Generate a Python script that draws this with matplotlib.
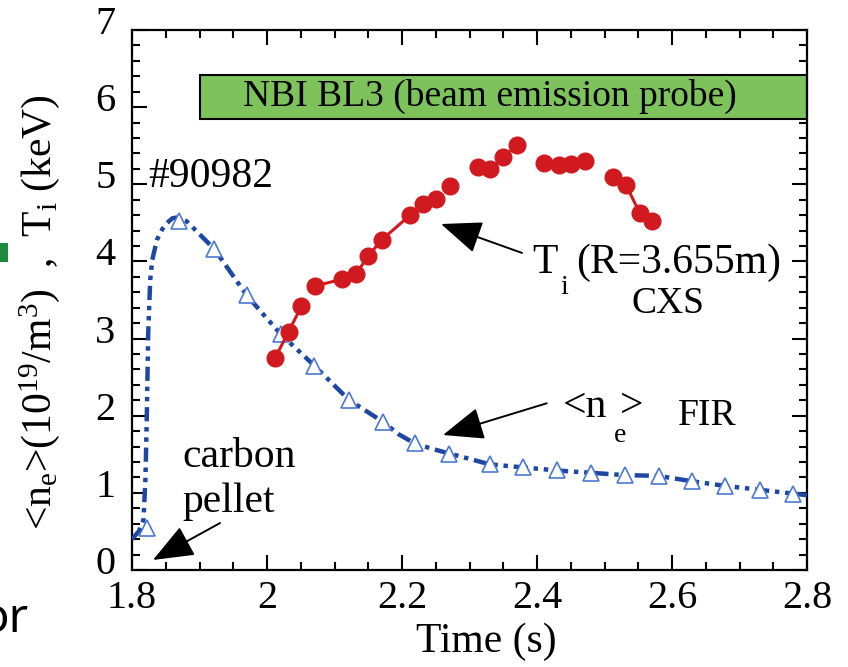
import numpy as np
import matplotlib
matplotlib.use('Agg')
import matplotlib.pyplot as plt
from matplotlib.patches import Rectangle
from matplotlib.ticker import MultipleLocator
import matplotlib.transforms as mtransforms

# ---------------- data ----------------
# <n_e> FIR: marker points (open triangles)
ne_t = [1.822, 1.870, 1.922, 1.970, 2.020, 2.070, 2.122, 2.172, 2.219, 2.270,
        2.330, 2.379, 2.430, 2.480, 2.530, 2.580, 2.630, 2.679, 2.730, 2.779]
ne_v = [0.55, 4.52, 4.16, 3.56, 3.06, 2.65, 2.20, 1.92, 1.64, 1.51,
        1.37, 1.33, 1.29, 1.26, 1.23, 1.22, 1.15, 1.09, 1.04, 0.99]
# <n_e> FIR: continuous trace
ne_line_t = [1.800, 1.810, 1.817, 1.820, 1.822, 1.824, 1.827, 1.830, 1.837, 1.845,
             1.852, 1.860, 1.867, 1.881, 1.922, 1.970, 2.020, 2.070, 2.122, 2.172,
             2.195, 2.219, 2.245, 2.270, 2.296, 2.330, 2.379, 2.430, 2.480, 2.530,
             2.580, 2.630, 2.679, 2.730, 2.779, 2.800]
ne_line_v = [0.40, 0.50, 0.65, 1.20, 2.03, 3.07, 3.76, 4.02, 4.28, 4.42,
             4.50, 4.56, 4.57, 4.52, 4.16, 3.56, 3.06, 2.65, 2.20, 1.92,
             1.76, 1.64, 1.57, 1.51, 1.45, 1.37, 1.33, 1.29, 1.26, 1.23,
             1.22, 1.15, 1.09, 1.04, 0.99, 0.97]

# T_i CXS (R=3.655m)
ti_t = [2.012, 2.032, 2.051, 2.071, 2.111, 2.132, 2.150, 2.170, 2.212, 2.231,
        2.251, 2.271, 2.313, 2.331, 2.350, 2.371, 2.410, 2.432, 2.451, 2.471,
        2.512, 2.532, 2.552, 2.571]
ti_v = [2.75, 3.09, 3.42, 3.68, 3.77, 3.84, 4.07, 4.28, 4.60, 4.75,
        4.81, 4.98, 5.22, 5.20, 5.35, 5.51, 5.27, 5.25, 5.26, 5.30,
        5.09, 4.99, 4.63, 4.53]
ti_segments = [(0, 3), (3, 11), (11, 12), (12, 16), (16, 20), (20, 24)]

xticks = [1.8, 2.0, 2.2, 2.4, 2.6, 2.8]
xtick_labels = ['1.8', '2', '2.2', '2.4', '2.6', '2.8']
yticks = [0, 1, 2, 3, 4, 5, 6, 7]
ytick_labels = ['0', '1', '2', '3', '4', '5', '6', '7']

nbi_span = (1.9, 2.8)
nbi_y = (5.85, 6.42)

# ---------------- style ----------------
plt.rcParams['font.family'] = ['Liberation Serif', 'DejaVu Serif']
plt.rcParams['mathtext.fontset'] = 'custom'
plt.rcParams['mathtext.rm'] = 'Liberation Serif'
plt.rcParams['mathtext.it'] = 'Liberation Serif:italic'

BLUE = '#1d47a3'
TRI = '#4b79d2'
RED = '#d11a20'
GREEN = '#7dc25a'

fig = plt.figure(figsize=(8.48, 6.67), dpi=100)
W, H = 848, 667
ax = fig.add_axes([132 / W, 1 - 570 / H, 675 / W, 540 / H])

# n_e trace
ax.plot(ne_line_t, ne_line_v, color=BLUE, lw=3.2,
        linestyle=(0, (3.2, 1.3, 1.0, 1.3, 1.0, 1.3)), solid_capstyle='butt', zorder=3)
ax.plot(ne_t, ne_v, linestyle='none', marker='^', ms=11.5, mfc='white',
        mec=TRI, mew=1.2, zorder=4)

# T_i
for a, b in ti_segments:
    ax.plot(ti_t[a:b], ti_v[a:b], color=RED, lw=2.2, marker='o', ms=12,
            mec=RED, mfc=RED, zorder=5)

# NBI box
ax.add_patch(Rectangle((nbi_span[0], nbi_y[0]), nbi_span[1] - nbi_span[0],
                       nbi_y[1] - nbi_y[0], facecolor=GREEN, edgecolor='black',
                       lw=1.5, zorder=2, clip_on=False))
ax.text(2.330, (nbi_y[0] + nbi_y[1]) / 2, 'NBI BL3 (beam emission probe)',
        ha='center', va='center', fontsize=27, zorder=6)

# texts
ax.text(1.8237, 4.965, '#90982', fontsize=30, ha='left', va='baseline')
ax.text(2.3926, 3.85, 'T', fontsize=30, ha='left', va='baseline')
ax.text(2.434, 3.58, 'i', fontsize=20, ha='left', va='baseline')
ax.text(2.458, 3.85, '(R=3.655m)', fontsize=30, ha='left', va='baseline')
ax.text(2.594, 3.33, 'CXS', fontsize=27, ha='center', va='baseline')

ax.text(2.4385, 1.983, '<n', fontsize=30, ha='left', va='baseline')
ax.text(2.523, 1.983, '>', fontsize=30, ha='left', va='baseline')
ax.text(2.5135, 1.66, 'e', fontsize=20, ha='left', va='baseline')
ax.text(2.609, 1.88, 'FIR', fontsize=27, ha='left', va='baseline')

ax.text(1.874, 1.335, 'carbon', fontsize=30, ha='left', va='baseline')
ax.text(1.874, 0.75, 'pellet', fontsize=30, ha='left', va='baseline')

arrow_kw = dict(arrowstyle='-|>,head_length=1.5,head_width=0.6', color='black',
                lw=1.4, shrinkA=0, shrinkB=0, mutation_scale=17)
ax.annotate('', xy=(2.2578, 4.485), xytext=(2.3778, 4.11), arrowprops=arrow_kw)
ax.annotate('', xy=(2.2607, 1.75), xytext=(2.4144, 2.161), arrowprops=arrow_kw)
ax.annotate('', xy=(1.8311, 0.13), xytext=(1.9304, 0.609), arrowprops=arrow_kw)

# axes
ax.set_xlim(1.8, 2.8)
ax.set_ylim(0, 7)
ax.set_xticks(xticks)
ax.set_xticklabels(xtick_labels)
ax.set_yticks(yticks)
ax.set_yticklabels(ytick_labels)
ax.xaxis.set_minor_locator(MultipleLocator(0.05))
ax.yaxis.set_minor_locator(MultipleLocator(0.2))
ax.tick_params(which='both', direction='in', top=True, right=True, width=1.5,
               labelsize=29, colors='black')
ax.tick_params(which='major', length=11)
ax.tick_params(which='minor', length=6)
ax.tick_params(axis='y', pad=12)
ax.tick_params(axis='x', pad=7)
for s in ax.spines.values():
    s.set_linewidth(1.6)

offset = mtransforms.ScaledTranslation(0, 10 / 100, fig.dpi_scale_trans)
for lab in ax.get_yticklabels():
    lab.set_transform(lab.get_transform() + offset)

fig.text(486 / W, 1 - 652 / H, 'Time (s)', fontsize=30, ha='center', va='baseline')
fig.text(40 / W, 1 - 312 / H,
         r'<n$_{\mathrm{e}}$>(10$^{19}$/m$^{3}$)  ,  T$_{\mathrm{i}}$ (keV)',
         fontsize=30, rotation=90, ha='center', va='center')

# stray slide fragments at the left edge
fig.patches.append(Rectangle((0, 1 - 262 / H), 8 / W, 19 / H, transform=fig.transFigure,
                             facecolor='#1b8a3c', edgecolor='none'))
fig.text(-20 / W, 1 - 632 / H, 'or', fontsize=34, ha='left', va='baseline',
         family=['Noto Sans', 'DejaVu Sans'])

fig.savefig('out.png', dpi=100)
